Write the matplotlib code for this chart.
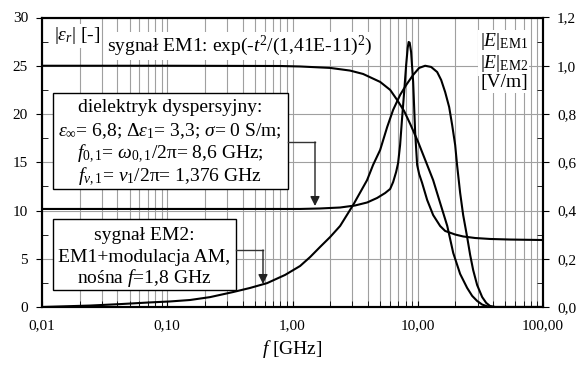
import matplotlib.pyplot as plt
from matplotlib.patches import Rectangle
from matplotlib.ticker import FuncFormatter, MultipleLocator, LogLocator

plt.rcParams['font.family'] = ['Liberation Serif', 'DejaVu Serif']
plt.rcParams['mathtext.fontset'] = 'custom'
plt.rcParams['mathtext.rm'] = 'Liberation Serif'
plt.rcParams['mathtext.it'] = 'Liberation Serif:italic'
plt.rcParams['mathtext.bf'] = 'Liberation Serif:bold'

# |eps_r| [-]  (left axis), f in GHz
f_eps = [0.01, 0.1, 1.15, 1.66, 2.40, 3.16, 3.94, 4.74, 5.49, 6.02, 6.36,
         6.72, 6.97, 7.23, 7.50, 7.79, 8.08, 8.31, 8.46, 8.62, 8.85, 9.19,
         9.53, 9.89, 10.26, 10.84, 11.89, 13.27, 15.1, 16.55, 19.9, 23.05,
         28.7, 37.8, 54.7, 100]
eps = [10.16, 10.16, 10.16, 10.21, 10.31, 10.52, 10.83, 11.3, 11.81, 12.23,
       12.95, 13.99, 14.92, 16.79, 19.59, 22.28, 25.08, 26.84, 27.46, 27.4,
       26.42, 23.32, 18.13, 14.72, 13.78, 12.85, 11.09, 9.53, 8.39, 7.88,
       7.51, 7.31, 7.15, 7.05, 6.99, 6.94]

# |E| EM1 [V/m]  (right axis)
f_em1 = [0.01, 0.1, 0.796, 1.15, 2.0, 2.88, 3.66, 5.01, 6.02, 6.85, 7.79,
         8.70, 10.07, 11.89, 13.27, 15.1, 17.2, 19.2, 21.8, 24.8, 27.2, 29.8,
         32.7, 35.8, 41.5, 100]
em1 = [1.0, 1.0, 0.999, 0.997, 0.991, 0.98, 0.966, 0.933, 0.9, 0.858, 0.812,
       0.759, 0.684, 0.589, 0.526, 0.431, 0.336, 0.224, 0.137, 0.079, 0.046,
       0.025, 0.01, 0.003, 0.0, 0.0]

# |E| EM2 [V/m]  (right axis)
f_em2 = [0.01, 0.0242, 0.042, 0.0729, 0.1053, 0.152, 0.2198, 0.3354, 0.4585,
         0.6268, 0.873, 1.15, 1.382, 1.661, 1.997, 2.40, 3.05, 3.94, 4.40,
         5.01, 5.70, 6.36, 7.23, 8.08, 9.19, 10.26, 11.46, 12.79, 14.29,
         15.38, 16.55, 17.81, 18.83, 19.9, 20.6, 21.8, 23.05, 24.8, 26.2,
         27.7, 29.8, 32.7, 35.2, 37.8, 41.5, 100]
em2 = [0.0, 0.006, 0.012, 0.019, 0.023, 0.029, 0.041, 0.062, 0.079, 0.099,
       0.133, 0.17, 0.207, 0.249, 0.29, 0.336, 0.423, 0.526, 0.589, 0.651,
       0.746, 0.817, 0.879, 0.92, 0.962, 0.991, 1.0, 0.995, 0.974, 0.941,
       0.891, 0.829, 0.754, 0.671, 0.589, 0.473, 0.381, 0.29, 0.216, 0.153,
       0.091, 0.041, 0.017, 0.004, 0.0, 0.0]


def P(x, y):
    # pixel position in the picture -> axes fraction
    return ((x - 42) / 501, (307 - y) / 289.5)


fig = plt.figure(figsize=(5.85, 3.68), dpi=100)
ax = fig.add_axes([42 / 585, 61 / 368, 501 / 585, 289.5 / 368])
ax2 = ax.twinx()

ax.plot(f_eps, eps, color='black', lw=1.5, zorder=3)
ax2.plot(f_em1, em1, color='black', lw=1.5)
ax2.plot(f_em2, em2, color='black', lw=1.5)

ax.set_xscale('log')
ax.set_xlim(0.01, 100)
ax.set_ylim(0, 30)
ax2.set_ylim(0, 1.2)

ax.xaxis.set_major_locator(LogLocator(base=10))
ax.xaxis.set_minor_locator(LogLocator(base=10, subs=range(2, 10)))
ax.xaxis.set_major_formatter(FuncFormatter(lambda v, p: f'{v:.2f}'.replace('.', ',')))
ax.xaxis.set_minor_formatter(FuncFormatter(lambda v, p: ''))
ax.yaxis.set_major_locator(MultipleLocator(5))
ax.yaxis.set_minor_locator(MultipleLocator(2.5))
ax2.yaxis.set_major_locator(MultipleLocator(0.2))
ax2.yaxis.set_minor_locator(MultipleLocator(0.1))
ax2.yaxis.set_major_formatter(FuncFormatter(lambda v, p: f'{v:.1f}'.replace('.', ',')))

ax.grid(True, which='both', axis='x', color='#a0a0a0', lw=0.8)
ax.grid(True, which='major', axis='y', color='#a0a0a0', lw=0.8)
ax.set_axisbelow(True)

ax.tick_params(axis='x', which='both', direction='in', length=4, top=False, labelsize=11, pad=9)
ax.tick_params(axis='y', which='major', direction='out', length=4, labelsize=11, pad=6)
ax.tick_params(axis='y', which='minor', direction='in', length=4)
ax2.tick_params(axis='y', which='major', direction='out', length=4, labelsize=11, pad=6)
ax2.tick_params(axis='y', which='minor', direction='in', length=4)
for a in (ax, ax2):
    for s in a.spines.values():
        s.set_linewidth(1.5)

ax.set_xlabel(r'$f$ [GHz]', fontsize=14, labelpad=4)

tr = ax2.transAxes
wb = dict(facecolor='white', edgecolor='none', pad=1)
ax2.text(*P(54, 36), r'$|\varepsilon_r|$ [-]', fontsize=14, ha='left', va='center',
         transform=tr, bbox=wb)
ax2.text(*P(240, 46), r'sygnał EM1: exp(-$t^2$/(1,41E-11)$^2$)', fontsize=14,
         ha='center', va='center', transform=tr, bbox=wb)
ax2.text(*P(528, 42), r'$|E|_{\mathrm{EM1}}$', fontsize=14, ha='right', va='center',
         transform=tr, bbox=wb)
ax2.text(*P(528, 64), r'$|E|_{\mathrm{EM2}}$', fontsize=14, ha='right', va='center',
         transform=tr, bbox=wb)
ax2.text(*P(528, 83), '[V/m]', fontsize=14, ha='right', va='center',
         transform=tr, bbox=wb)

# box 1: dielectric
x0, y0 = P(53, 189)
x1, y1 = P(288, 93)
ax2.add_patch(Rectangle((x0, y0), x1 - x0, y1 - y0, transform=tr,
                        facecolor='white', edgecolor='black', lw=1, zorder=4))
lines1 = ['dielektryk dyspersyjny:',
          r'$\varepsilon_\infty$= 6,8; $\Delta\varepsilon_1$= 3,3; $\sigma$= 0 S/m;',
          r'$f_{0,1}$= $\omega_{0,1}$/2π= 8,6 GHz;',
          r'$f_{\nu,1}$= $\nu_1$/2π= 1,376 GHz']
for i, s in enumerate(lines1):
    ax2.text(*P(170, 108 + 23 * i), s, fontsize=14, ha='center', va='center',
             transform=tr, zorder=5)

# box 2: EM2 signal
x0, y0 = P(53, 290)
x1, y1 = P(236, 219)
ax2.add_patch(Rectangle((x0, y0), x1 - x0, y1 - y0, transform=tr,
                        facecolor='white', edgecolor='black', lw=1, zorder=4))
lines2 = ['sygnał EM2:', 'EM1+modulacja AM,', r'nośna $f$=1,8 GHz']
for i, s in enumerate(lines2):
    ax2.text(*P(144, 236 + 21 * i), s, fontsize=14, ha='center', va='center',
             transform=tr, zorder=5)

# arrows
for (xa, ya), (xb, yb), (xc, yc) in [((288, 142), (315, 142), (315, 206)),
                                       ((236, 250), (263, 250), (263, 284))]:
    pa, pb, pc = P(xa, ya), P(xb, yb), P(xc, yc)
    ax2.plot([pa[0], pb[0]], [pa[1], pb[1]], color='#333333', lw=1,
             transform=tr, zorder=5)
    ax2.annotate('', xy=pc, xytext=pb, xycoords=tr, textcoords=tr,
                 arrowprops=dict(arrowstyle='-|>', color='#222222', lw=1,
                                 mutation_scale=14, shrinkA=0, shrinkB=0),
                 zorder=5)

fig.savefig('out.png', dpi=100)
